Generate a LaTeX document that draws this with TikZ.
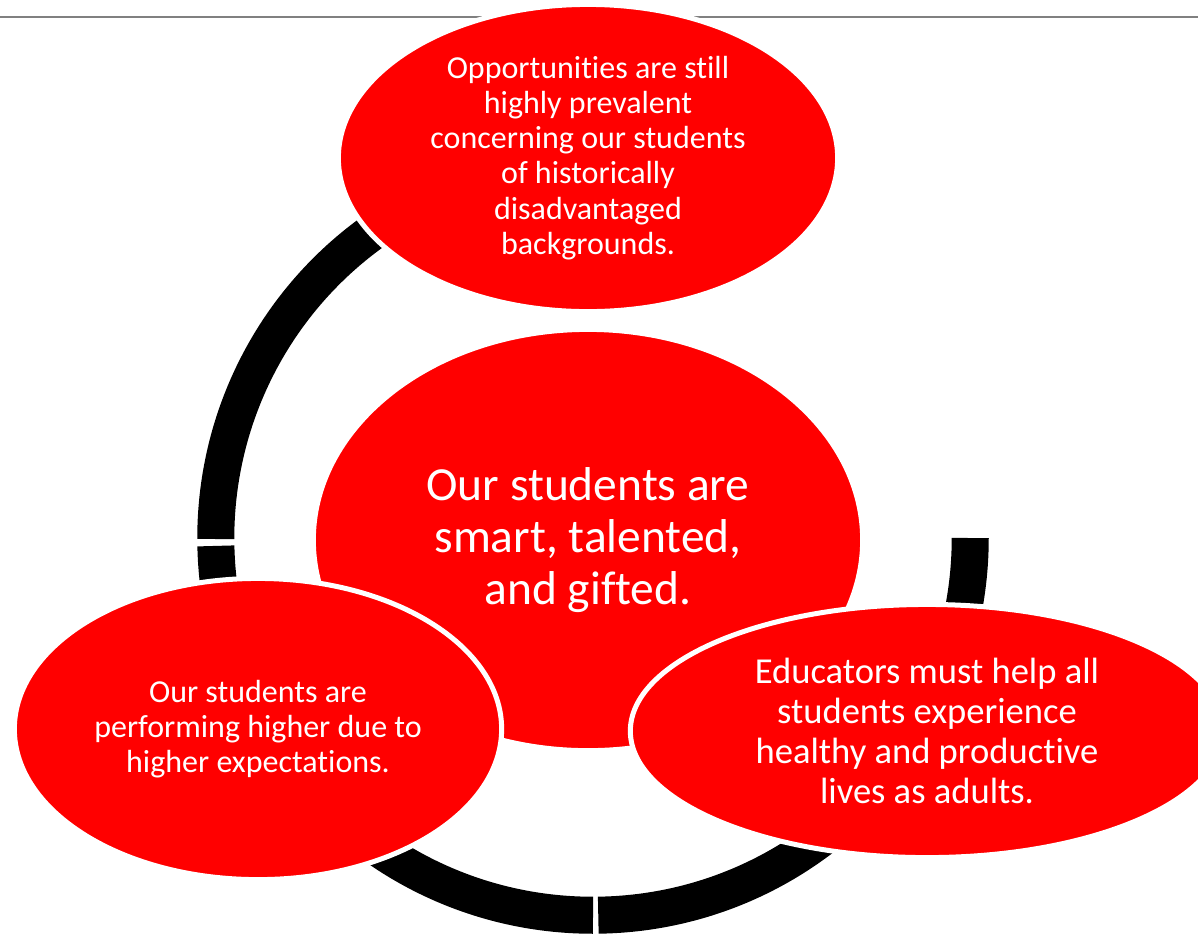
\documentclass[tikz,border=0pt]{standalone}
\usepackage{fontspec}
\setmainfont{Carlito}[Ligatures=NoCommon]
\usetikzlibrary{shapes.geometric}

\begin{document}
\begin{tikzpicture}[x=0.01cm, y=-0.01cm,
  bubble/.style={ellipse, fill=red, draw=white, line width=0.05cm,
    text=white, align=center, inner sep=0pt},
  smalltext/.style={font=\fontsize{9.1}{10}\selectfont},
  ring/.style={black, line width=0.37cm}]
  %keep the page at the size of the slide
  \useasboundingbox (0,0) rectangle (1198,936);
  %grey rule under the slide title
  \coordinate (ruleL) at (0,17);
  \coordinate (ruleR) at (1198,17);
  \draw[gray, line width=0.02cm] (ruleL) -- (ruleR);
  %the ring behind the bubbles, in three pieces
  \coordinate (ring) at (593,538); %centre of the ring
  \draw[ring] ([shift={(90:3.77cm)}]ring) arc[start angle=90, end angle=180.15, radius=3.77cm];
  \draw[ring] ([shift={(181.2:3.77cm)}]ring) arc[start angle=181.2, end angle=270, radius=3.77cm];
  \draw[ring] ([shift={(270.8:3.77cm)}]ring) arc[start angle=270.8, end angle=360, radius=3.77cm];
  %the bubbles (the later ones lie on top)
  \node[bubble, smalltext, minimum width=4.99cm, minimum height=3.07cm] (opp) at (588,158)
    {Opportunities are still\\highly prevalent\\concerning our students\\of historically\\disadvantaged\\backgrounds.};
  \node[bubble, font=\fontsize{13.5}{14.85}\selectfont, minimum width=5.49cm, minimum height=4.21cm] (smart) at (588,540)
    {Our students are\\smart, talented,\\and gifted.};
  \node[bubble, smalltext, minimum width=4.87cm, minimum height=3.01cm] (higher) at (258,729)
    {Our students are\\performing higher due to\\higher expectations.};
  \node[bubble, font=\fontsize{10.4}{11.4}\selectfont, minimum width=5.93cm, minimum height=2.53cm] (educ) at (927,731)
    {Educators must help all\\students experience\\healthy and productive\\lives as adults.};
\end{tikzpicture}
\end{document}
